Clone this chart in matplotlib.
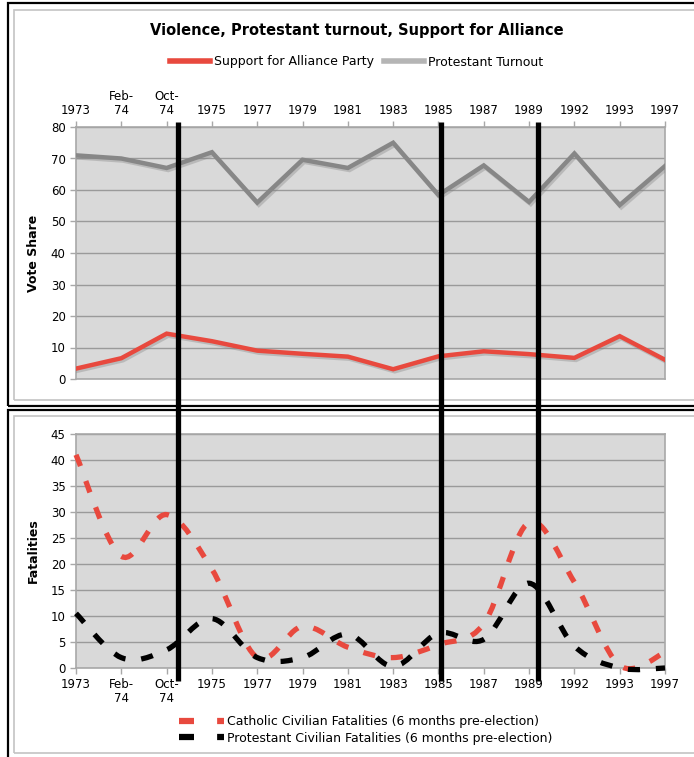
import matplotlib
matplotlib.use("Agg")
import matplotlib.pyplot as plt
from matplotlib.path import Path
from matplotlib.patches import PathPatch, Rectangle
from matplotlib.lines import Line2D
from matplotlib.transforms import blended_transform_factory
import matplotlib.patheffects as pe
import numpy as np

plt.rcParams['font.family'] = ['DejaVu Sans']

# ---------------- data ----------------
categories = ["1973", "Feb-\n74", "Oct-\n74", "1975", "1977", "1979", "1981",
              "1983", "1985", "1987", "1989", "1992", "1993", "1997"]
alliance_support = [3.3, 6.6, 14.4, 12.0, 9.0, 8.0, 7.1, 3.1, 7.2, 8.8, 7.9, 6.7, 13.6, 6.1]
protestant_turnout = [71, 70, 67, 72, 56, 69.6, 67, 75, 58.4, 67.8, 56.2, 71.6, 55.2, 67.6]
catholic_fatalities = [41, 21.5, 29.5, 19, 2, 8, 4, 2, 4.5, 8.5, 28, 16.5, 0.5, 3]
protestant_fatalities = [10.5, 2, 3.5, 9.5, 2, 2, 6.5, 0.3, 6.7, 5.5, 16.3, 4.2, 0, 0]
event_positions = [2.25, 8.06, 10.2]   # positions of vertical event markers (category units)

RED = "#e8493e"
GRAY = "#878787"
BG = "#d9d9d9"
GRID = "#9a9a9a"
SPINE = "#a8a8a8"

W, H = 694, 757
fig = plt.figure(figsize=(W / 100, H / 100), dpi=100)

def fx(px): return px / W
def fy(py): return 1 - py / H

# panel frames
fig.add_artist(Rectangle((fx(8), fy(406)), fx(700) - fx(8), fy(3) - fy(406),
                         transform=fig.transFigure, fill=False, ec="black", lw=1.6))
fig.add_artist(Rectangle((fx(14), fy(400)), fx(700) - fx(14), fy(10) - fy(400),
                         transform=fig.transFigure, fill=False, ec="#c4c4c4", lw=1.2))
fig.add_artist(Rectangle((fx(8), fy(770)), fx(700) - fx(8), fy(410) - fy(770),
                         transform=fig.transFigure, fill=False, ec="black", lw=1.6))
fig.add_artist(Rectangle((fx(14), fy(753)), fx(700) - fx(14), fy(416) - fy(753),
                         transform=fig.transFigure, fill=False, ec="#c4c4c4", lw=1.2))

x = np.arange(len(categories))

def style_axes(ax, ymax, ystep):
    ax.set_facecolor(BG)
    ax.set_xlim(0, len(categories) - 1)
    ax.set_ylim(0, ymax)
    ax.set_yticks(np.arange(0, ymax + 0.1, ystep))
    ax.yaxis.grid(True, color=GRID, lw=1)
    ax.set_axisbelow(True)
    for s in ax.spines.values():
        s.set_color(SPINE)
        s.set_linewidth(1.2)
    ax.tick_params(axis="both", colors=SPINE, labelcolor="black", labelsize=8.5,
                   length=4, width=1)
    ax.set_xticks(x)
    ax.set_xticklabels(categories, linespacing=1.1)

# ---------------- top chart ----------------
ax1 = fig.add_axes([fx(76), fy(379), fx(665) - fx(76), fy(127) - fy(379)])
style_axes(ax1, 80, 10)
ax1.xaxis.tick_top()
ax1.tick_params(axis="x", pad=3)
shadow = [pe.SimpleLineShadow(offset=(1.2, -1.5), shadow_color="#808080", alpha=0.35),
          pe.Normal()]
ax1.plot(x, protestant_turnout, color=GRAY, lw=3.2, solid_joinstyle="miter",
         path_effects=shadow, zorder=3)
ax1.plot(x, alliance_support, color=RED, lw=3.2, solid_joinstyle="miter",
         path_effects=shadow, zorder=3)
ax1.set_ylabel("Vote Share", fontsize=9, fontweight="bold", labelpad=8)

fig.text(0.514, fy(30), "Violence, Protestant turnout, Support for Alliance",
         ha="center", va="center", fontsize=10.5, fontweight="bold")
h1 = [Line2D([], [], color=RED, lw=4), Line2D([], [], color="#b5b5b5", lw=4)]
fig.legend(h1, ["Support for Alliance Party", "Protestant Turnout"],
           loc="center", bbox_to_anchor=(0.514, fy(62)), ncol=2, frameon=False,
           fontsize=9, handlelength=3.2, handletextpad=0.3, columnspacing=0.8)

# ---------------- bottom chart ----------------
ax2 = fig.add_axes([fx(76), fy(668), fx(665) - fx(76), fy(434) - fy(668)])
style_axes(ax2, 45, 5)
ax2.tick_params(axis="x", pad=3)
ax2.set_ylabel("Fatalities", fontsize=9, fontweight="bold", labelpad=8)

def smooth_path(xs, ys):
    pts = np.column_stack([xs, ys]).astype(float)
    n = len(pts)
    verts = [pts[0]]
    codes = [Path.MOVETO]
    for i in range(n - 1):
        p0 = pts[i - 1] if i > 0 else pts[i]
        p1 = pts[i]
        p2 = pts[i + 1]
        p3 = pts[i + 2] if i + 2 < n else pts[i + 1]
        c1 = p1 + (p2 - p0) / 6.0
        c2 = p2 - (p3 - p1) / 6.0
        verts += [c1, c2, p2]
        codes += [Path.CURVE4] * 3
    return Path(verts, codes)

for series, col, z in [(catholic_fatalities, RED, 3), (protestant_fatalities, "black", 4)]:
    patch = PathPatch(smooth_path(x, series), fill=False, ec=col, lw=3.8,
                      linestyle=(0, (2.3, 3.0)), capstyle="butt", zorder=z)
    patch.set_clip_on(False)
    ax2.add_patch(patch)

h2 = [Line2D([], [], color=RED, lw=4.5, linestyle=(0, (2.4, 3.7)), dash_capstyle="butt"),
      Line2D([], [], color="black", lw=4.5, linestyle=(0, (2.4, 3.7)), dash_capstyle="butt")]
fig.legend(h2, ["Catholic Civilian Fatalities (6 months pre-election)",
                "Protestant Civilian Fatalities (6 months pre-election)"],
           loc="center left", bbox_to_anchor=(fx(168), fy(730)), frameon=False,
           fontsize=9, handlelength=3.6, handletextpad=0.2, labelspacing=0.25)

# ---------------- event markers spanning both charts ----------------
trans = blended_transform_factory(ax2.transData, fig.transFigure)
for ev in event_positions:
    fig.add_artist(Line2D([ev, ev], [fy(681), fy(122)], transform=trans,
                          color="black", lw=3.8, solid_capstyle="butt", zorder=10))

fig.savefig("out.png", dpi=100)
